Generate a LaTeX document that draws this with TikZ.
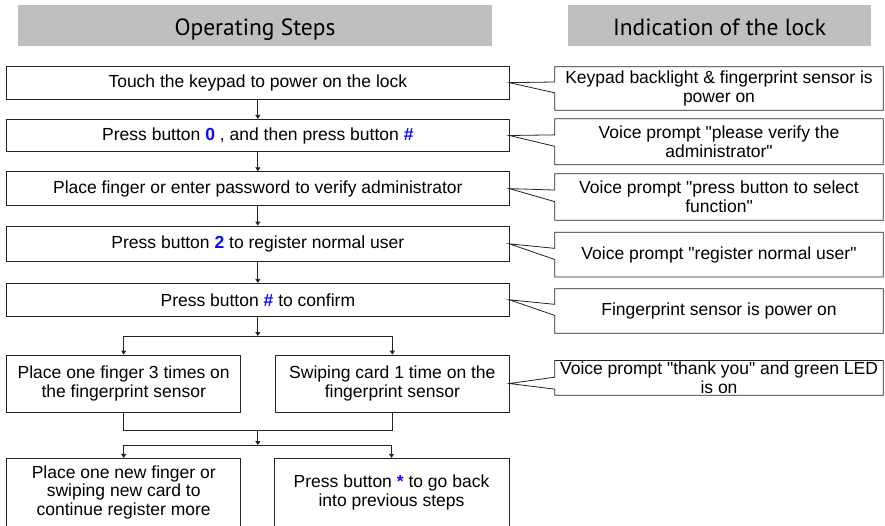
\documentclass[tikz,border=0pt]{standalone}
\usepackage{fontspec}
\setmainfont{Liberation Sans}[Ligatures=TeXOff]
\newfontfamily\hdfont{PT Sans}
\usetikzlibrary{arrows.meta,calc}
\definecolor{hdgray}{RGB}{191,191,191}
\definecolor{keyblue}{RGB}{10,10,255}
\definecolor{linecol}{RGB}{35,35,35}
\newlength\hdwidth
\newcommand\kb[1]{\textcolor{keyblue}{\textbf{#1}}}
\begin{document}
\settowidth\hdwidth{\hdfont\fontsize{10pt}{12pt}\selectfont Indication of the lock}%
\pgfmathsetmacro\hdsize{10*213/\hdwidth}%
\begin{tikzpicture}[x=1pt,y=-1pt]
\tikzset{
  hdbox/.style={fill=hdgray, draw=none, inner sep=0pt, minimum height=41pt},
  hdtext/.style={inner sep=0pt, anchor=base,
    font=\hdfont\fontsize{\hdsize pt}{\hdsize pt}\selectfont},
  stepbox/.style={draw=linecol, line width=0.8pt, inner sep=0pt, align=center,
    font=\fontsize{17.5pt}{18.8pt}\selectfont},
  callbox/.style={inner sep=0pt, align=center, minimum width=328pt,
    font=\fontsize{17.5pt}{18.8pt}\selectfont},
  calline/.style={draw=linecol, line width=0.8pt, line join=miter},
  plain/.style={draw=linecol, line width=0.8pt},
  conn/.style={plain, -{Triangle[length=4pt,width=5pt]}},
}
\useasboundingbox (0,0) rectangle (885,525);
\fill[white] (0,0) rectangle (885,525);

% headers
\node[hdbox, minimum width=474pt] (h1) at (255,25.5) {};
\node[hdtext] (h1t) at (255,35) {Operating Steps};
\node[hdbox, minimum width=303pt] (h2) at (719.5,25.5) {};
\node[hdtext] (h2t) at (719.5,35) {Indication of the lock};

% main steps
\node[stepbox, minimum width=502.3pt, minimum height=33.3pt] (b1) at (257.85,82.65)
  {Touch the keypad to power on the lock};
\node[stepbox, minimum width=502.3pt, minimum height=32.4pt] (b2) at (257.85,135.5)
  {Press button \kb{0} , and then press button \kb{\#}};
\node[stepbox, minimum width=502.3pt, minimum height=33.8pt] (b3) at (257.85,188.6)
  {Place finger or enter password to verify administrator};
\node[stepbox, minimum width=502.3pt, minimum height=35.7pt] (b4) at (257.85,243.85)
  {Press button \kb{2} to register normal user};
\node[stepbox, minimum width=502.3pt, minimum height=33pt] (b5) at (257.85,299.8)
  {Press button \kb{\#} to confirm};

% branch boxes
\node[stepbox, minimum width=234pt, minimum height=57pt] (t1) at (123.7,383.5)
  {Place one finger 3 times on\\the fingerprint sensor};
\node[stepbox, minimum width=233.3pt, minimum height=57pt] (t2) at (392.35,383.5)
  {Swiping card 1 time on the\\fingerprint sensor};

\begin{scope}
\clip (0,0) rectangle (885,525);
\node[stepbox, minimum width=234pt, minimum height=68pt] (u1) at (123.7,492.3)
  {Place one new finger or\\swiping new card to\\continue register more};
\node[stepbox, minimum width=235pt, minimum height=68pt] (u2) at (391.5,492.3)
  {Press button \kb{*} to go back\\into previous steps};
\end{scope}

% connectors
\draw[conn] (b1.south) -- (b2.north);
\draw[conn] (b2.south) -- (b3.north);
\draw[conn] (b3.south) -- (b4.north);
\draw[conn] (b4.south) -- (b5.north);
\coordinate (s1) at (257.85,336);
\draw[conn] (b5.south) -- (s1);
\draw[plain] (t1.north |- s1) -- (t2.north |- s1);
\draw[conn] (t1.north |- s1) -- (t1.north);
\draw[conn] (t2.north |- s1) -- (t2.north);
\coordinate (m1) at (257.85,430);
\draw[plain] (t1.south) -- (t1.south |- m1) -- (t2.south |- m1) -- (t2.south);
\coordinate (s2) at (257.85,445);
\draw[conn] (m1) -- (s2);
\draw[plain] (u1.north |- s2) -- (u2.north |- s2);
\draw[conn] (u1.north |- s2) -- (u1.north);
\draw[conn] (u2.north |- s2) -- (u2.north);

% callouts
\node[callbox, minimum height=43pt] (c1) at (719,88.5)
  {Keypad backlight \& fingerprint sensor is\\power on};
\node[callbox, minimum height=45.5pt] (c2) at (719,141.75)
  {Voice prompt "please verify the\\administrator"};
\node[callbox, minimum height=46pt] (c3) at (719,197)
  {Voice prompt "press button to select\\function"};
\node[callbox, minimum height=44.2pt] (c4) at (719,254.6)
  {\raisebox{2.5pt}{Voice prompt "register normal user"}};
\node[callbox, minimum height=44pt] (c5) at (719,311)
  {Fingerprint sensor is power on};
\node[callbox, minimum height=34.3pt] (c6) at (719,377.85) {};
\node[inner sep=0pt, align=center, font=\fontsize{17.5pt}{18.8pt}\selectfont] (c6t) at (719,377.5)
  {Voice prompt "thank you" and green LED\\is on};

\foreach \c/\b/\fa/\fb in {c1/b1/0.35/0.6, c2/b2/0.35/0.6, c3/b3/0.35/0.6,
                          c4/b4/0.36/0.61, c5/b5/0.35/0.6, c6/t2/0.48/0.825}{
  \draw[calline] (\c.north west) -- (\c.north east) -- (\c.south east) -- (\c.south west)
    -- ($(\c.north west)!\fb!(\c.south west)$) -- (\b.east)
    -- ($(\c.north west)!\fa!(\c.south west)$) -- cycle;
}
\end{tikzpicture}
\end{document}
